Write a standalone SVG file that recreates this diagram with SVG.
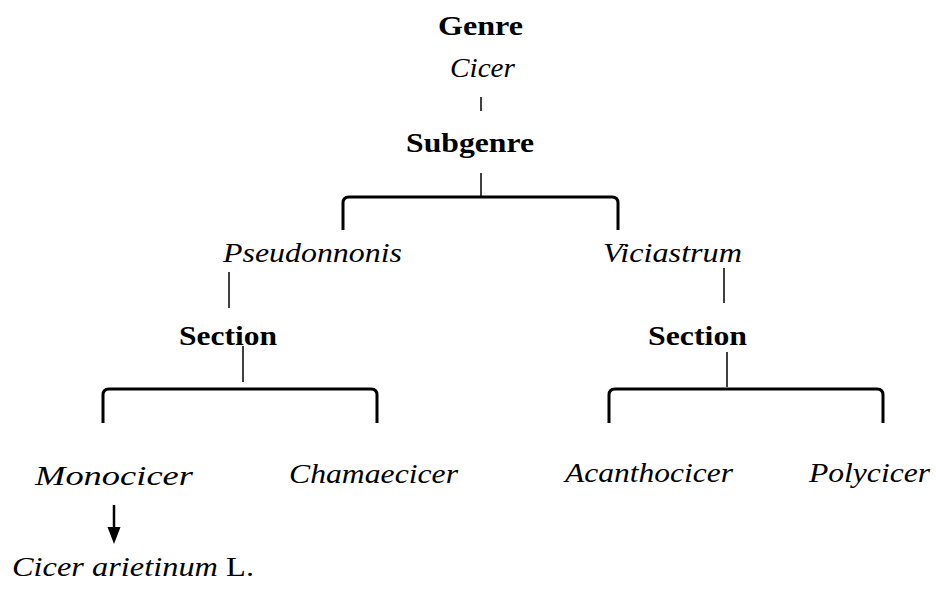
<svg xmlns="http://www.w3.org/2000/svg" width="936" height="589" viewBox="0 0 936 589">
<style>
text{fill:#000;font-size:27px}
.b{font-weight:bold}
.i{font-style:italic}
.ln{stroke:#000;stroke-width:1.5;fill:none}
.br{stroke:#000;stroke-width:3;fill:none}
</style>
<g id="connectors">
<line class="ln" x1="481" y1="97" x2="481" y2="111"/>
<line class="ln" x1="481" y1="173" x2="481" y2="197"/>
<path class="br" d="M343,230 V203 Q343,197 349,197 H612 Q618,197 618,203 V230"/>
<line class="ln" x1="229" y1="272" x2="229" y2="308"/>
<line class="ln" x1="243" y1="346" x2="243" y2="382"/>
<path class="br" d="M103,423 V395 Q103,389 109,389 H371 Q377,389 377,395 V423"/>
<line class="ln" x1="724" y1="268" x2="724" y2="303"/>
<line class="ln" x1="727" y1="352" x2="727" y2="387"/>
<path class="br" d="M609,423 V395 Q609,389 615,389 H877 Q883,389 883,395 V423"/>
<line x1="114" y1="505" x2="114" y2="530" stroke="#000" stroke-width="2.5"/>
<path d="M107.5,527 L120.5,527 L114,544 Z" fill="#000"/>
</g>
<g font-family="Liberation Serif, Tinos, Times New Roman, serif">
<g id="genre"><text class="b" x="438" y="35" textLength="85" lengthAdjust="spacingAndGlyphs">Genre</text></g>
<g id="cicer"><text class="i" x="450" y="77" textLength="65" lengthAdjust="spacingAndGlyphs">Cicer</text></g>
<g id="subgenre"><text class="b" x="406" y="152" textLength="128" lengthAdjust="spacingAndGlyphs">Subgenre</text></g>
<g id="pseudonnonis"><text class="i" x="223" y="262" textLength="179" lengthAdjust="spacingAndGlyphs">Pseudonnonis</text></g>
<g id="viciastrum"><text class="i" x="603" y="262" textLength="139" lengthAdjust="spacingAndGlyphs">Viciastrum</text></g>
<g id="section-left"><text class="b" x="179" y="345" textLength="98" lengthAdjust="spacingAndGlyphs">Section</text></g>
<g id="section-right"><text class="b" x="648" y="345" textLength="99" lengthAdjust="spacingAndGlyphs">Section</text></g>
<g id="monocicer"><text class="i" x="35" y="485" textLength="158" lengthAdjust="spacingAndGlyphs">Monocicer</text></g>
<g id="chamaecicer"><text class="i" x="289" y="483" textLength="169" lengthAdjust="spacingAndGlyphs">Chamaecicer</text></g>
<g id="acanthocicer"><text class="i" x="565" y="482" textLength="168" lengthAdjust="spacingAndGlyphs">Acanthocicer</text></g>
<g id="polycicer"><text class="i" x="809" y="482" textLength="121" lengthAdjust="spacingAndGlyphs">Polycicer</text></g>
<g id="cicer-arietinum"><text x="12" y="576" textLength="242" lengthAdjust="spacingAndGlyphs"><tspan class="i">Cicer arietinum</tspan> L.</text></g>
</g>
</svg>
